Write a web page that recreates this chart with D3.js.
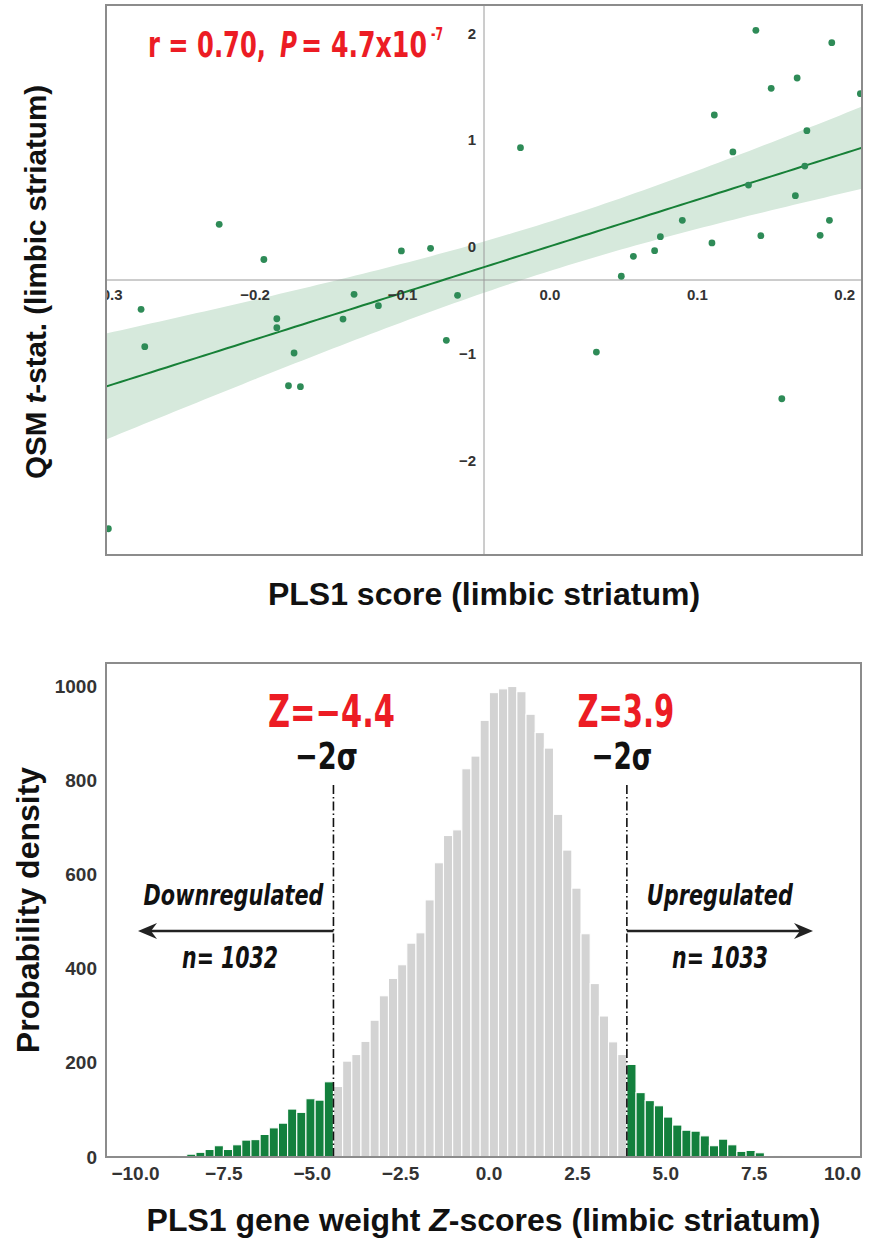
<!DOCTYPE html>
<html>
<head>
<meta charset="utf-8">
<script src="https://cdn.jsdelivr.net/npm/d3@7"></script>
<style>
  body { margin: 0; background: #fff; }
  svg { display: block; }
</style>
</head>
<body>
<svg id="fig" width="870" height="1241"></svg>
<script>
// ---------- Regional PLS1 score vs QSM t-statistic (limbic striatum) ----------
const plsScore = [
  -0.2244, -0.1941, -0.1008, -0.0810, -0.1329, -0.0627, -0.0200, 0.1397, 0.1912, 0.1677,
   0.1501,  0.2106,  0.1115,  0.1743,  0.1241,  0.1729,  0.1347, 0.1665, 0.0898, 0.1896,
   0.0749,  0.1099,  0.1431,  0.1833,  0.0710,  0.0566,  0.0484, -0.2774, -0.2749, -0.1853,
  -0.1853, -0.1736, -0.1774, -0.1693, -0.1404, -0.1164, -0.0703, -0.2996, 0.0315, 0.1573
];
const qsmT = [
   0.210, -0.120, -0.040, -0.015, -0.446, -0.456,  0.928,  2.028,  1.912,  1.581,
   1.484,  1.434,  1.234,  1.087,  0.888,  0.756,  0.578,  0.478,  0.247,  0.247,
   0.094,  0.035,  0.103,  0.107, -0.037, -0.090, -0.277, -0.587, -0.937, -0.675,
  -0.759, -0.996, -1.303, -1.312, -0.678, -0.553, -0.877, -2.643, -0.987, -1.425
];
const scatterXTicks = [-0.3, -0.2, -0.1, 0.0, 0.1, 0.2];
const scatterYTicks = [-2, -1, 0, 1, 2];

// ---------- Gene weight Z-score histogram ----------
const zLow = -4.4;     // -2 sigma threshold, downregulated side
const zHigh = 3.9;     // -2 sigma threshold, upregulated side
const binsBetween = 32;
const binsBelow = 18;
const histCounts = [
  // below zLow
  3, 0, 6, 10, 16, 24, 16, 26, 36, 37, 48, 62, 72, 102, 95, 124, 121, 160,
  // between thresholds
  150, 204, 218, 246, 291, 343, 380, 409, 455, 477, 547, 626, 684, 696, 826, 853,
  929, 988, 996, 1001, 990, 942, 903, 870, 729, 653, 572, 475, 369, 300, 245, 218,
  // above zHigh
  197, 137, 120, 109, 85, 68, 57, 55, 45, 24, 38, 26, 12, 14, 9, 0, 3
];
const histXTicks = [-10.0, -7.5, -5.0, -2.5, 0.0, 2.5, 5.0, 7.5, 10.0];
const histYTicks = [0, 200, 400, 600, 800, 1000];
const nDown = 1032, nUp = 1033;

// ---------- shared styling ----------
const SANS = "'Liberation Sans', Arial, Helvetica, sans-serif";
const NARROW = "'Liberation Sans Narrow', 'DejaVu Sans Condensed', 'Liberation Sans', sans-serif";
const RED = "#ec1c24";
const GREEN_PT = "#2e8b57";
const GREEN_LINE = "#178037";
const GREEN_BAND = "#d6e9dc";
const GREEN_BAR = "#13803d";
const GREY_BAR = "#d3d3d3";
const FRAME = "#8c8c8c";

const svg = d3.select("#fig");
const defs = svg.append("defs");

// condensed bold label, squeezed horizontally to a given width
function label(x, y, txt, size, color, width, italic, anchor) {
  const t = svg.append("text").attr("x", 0).attr("y", 0)
    .attr("text-anchor", anchor || "middle")
    .attr("font-family", NARROW).attr("font-weight", "bold").attr("font-size", size)
    .attr("fill", color).text(txt);
  if (italic) t.attr("font-style", "italic");
  let sx = 1;
  if (width) {
    const w = t.node().getComputedTextLength();
    if (w > 0) sx = width / w;
  }
  t.attr("transform", `translate(${x},${y}) scale(${sx},1)`);
  return t;
}

// =================== top panel: scatter with regression ===================
const sc = { left: 106, top: 5, right: 862, bottom: 555 };
const xS = d3.scaleLinear().domain([-0.3012, 0.2117]).range([sc.left, sc.right]);
const yS = d3.scaleLinear().domain([-2.889, 2.265]).range([sc.bottom, sc.top]);

defs.append("clipPath").attr("id", "scClip")
  .append("rect").attr("x", sc.left).attr("y", sc.top)
  .attr("width", sc.right - sc.left).attr("height", sc.bottom - sc.top);

const gS = svg.append("g").attr("clip-path", "url(#scClip)");

// ordinary least squares fit with a 95% confidence band
const n = plsScore.length;
const mx = d3.mean(plsScore), my = d3.mean(qsmT);
let sxx = 0, sxy = 0;
for (let i = 0; i < n; i++) {
  sxx += (plsScore[i] - mx) ** 2;
  sxy += (plsScore[i] - mx) * (qsmT[i] - my);
}
const slope = sxy / sxx, icpt = my - slope * mx;
let sse = 0;
for (let i = 0; i < n; i++) sse += (qsmT[i] - (icpt + slope * plsScore[i])) ** 2;
const sRes = Math.sqrt(sse / (n - 2));
const tCrit = 2.024;
const fitX = d3.range(0, 101).map(k => xS.domain()[0] + k * (xS.domain()[1] - xS.domain()[0]) / 100);
const fit = fitX.map(x => {
  const yh = icpt + slope * x;
  const se = sRes * Math.sqrt(1 / n + (x - mx) ** 2 / sxx);
  return { x, y: yh, lo: yh - tCrit * se, hi: yh + tCrit * se };
});

gS.append("path").datum(fit)
  .attr("d", d3.area().x(d => xS(d.x)).y0(d => yS(d.lo)).y1(d => yS(d.hi)))
  .attr("fill", GREEN_BAND);

// spines crossing at the centre of the axes box
const cx = (sc.left + sc.right) / 2, cy = (sc.top + sc.bottom) / 2;
gS.append("line").attr("x1", cx).attr("x2", cx).attr("y1", sc.top).attr("y2", sc.bottom)
  .attr("stroke", "#9a9a9a").attr("stroke-width", 1);
gS.append("line").attr("x1", sc.left).attr("x2", sc.right).attr("y1", cy).attr("y2", cy)
  .attr("stroke", "#9a9a9a").attr("stroke-width", 1);

gS.append("path").datum(fit)
  .attr("d", d3.line().x(d => xS(d.x)).y(d => yS(d.y)))
  .attr("fill", "none").attr("stroke", GREEN_LINE).attr("stroke-width", 2);

gS.selectAll("circle.pt").data(plsScore.map((x, i) => [x, qsmT[i]]))
  .join("circle").attr("class", "pt")
  .attr("cx", d => xS(d[0])).attr("cy", d => yS(d[1])).attr("r", 3.4)
  .attr("fill", GREEN_PT);

// tick labels sit next to the centred spines
const fmt1 = v => d3.format(".1f")(v).replace("-", "\u2212");
gS.selectAll("text.xt").data(scatterXTicks).join("text").attr("class", "xt")
  .attr("x", d => xS(d)).attr("y", cy + 14)
  .attr("dominant-baseline", "central").attr("text-anchor", "middle")
  .attr("font-family", SANS).attr("font-weight", "bold").attr("font-size", 15)
  .attr("fill", "#333").text(fmt1);
gS.selectAll("text.yt").data(scatterYTicks).join("text").attr("class", "yt")
  .attr("x", cx - 8).attr("y", d => yS(d))
  .attr("dominant-baseline", "central").attr("text-anchor", "end")
  .attr("font-family", SANS).attr("font-weight", "bold").attr("font-size", 15)
  .attr("fill", "#333").text(d => String(d).replace("-", "\u2212"));

svg.append("rect").attr("x", sc.left).attr("y", sc.top)
  .attr("width", sc.right - sc.left).attr("height", sc.bottom - sc.top)
  .attr("fill", "none").attr("stroke", FRAME).attr("stroke-width", 2);

// correlation annotation: r = 0.70, P = 4.7x10^-7
label(148, 57, "r = 0.70,", 36, RED, 118, false, "start");
label(280, 57, "P", 36, RED, 17, true, "start");
label(301, 57, "= 4.7x10", 36, RED, 126, false, "start");
label(431, 40, "-7", 18, RED, 12, false, "start");

// axis titles
const yTitle = svg.append("text")
  .attr("transform", `translate(46, ${cy + 2}) rotate(-90)`)
  .attr("text-anchor", "middle").attr("font-family", SANS)
  .attr("font-weight", "bold").attr("font-size", 30).attr("fill", "#111")
  .attr("textLength", 394).attr("lengthAdjust", "spacingAndGlyphs");
yTitle.append("tspan").text("QSM ");
yTitle.append("tspan").attr("font-style", "italic").text("t");
yTitle.append("tspan").text("-stat. (limbic striatum)");

svg.append("text").attr("x", cx).attr("y", 605).attr("text-anchor", "middle")
  .attr("font-family", SANS).attr("font-weight", "bold").attr("font-size", 32)
  .attr("fill", "#111").text("PLS1 score (limbic striatum)");

// =================== bottom panel: Z-score histogram ===================
const hp = { left: 106, top: 663, right: 861, bottom: 1157 };
const hx = d3.scaleLinear().domain([-10.834, 10.523]).range([hp.left, hp.right]);
const hy = d3.scaleLinear().domain([0, 1051]).range([hp.bottom, hp.top]);
const binWidth = (zHigh - zLow) / binsBetween;
const histStart = zLow - binsBelow * binWidth;

const bins = histCounts.map((c, i) => {
  const x0 = histStart + i * binWidth, x1 = x0 + binWidth;
  const tail = x1 <= zLow + 1e-9 || x0 >= zHigh - 1e-9;
  return { x0, x1, c, tail };
});

svg.append("g").selectAll("rect").data(bins.filter(b => b.c > 0)).join("rect")
  .attr("x", d => hx(d.x0)).attr("width", d => hx(d.x1) - hx(d.x0))
  .attr("y", d => hy(d.c)).attr("height", d => hy(0) - hy(d.c))
  .attr("fill", d => d.tail ? GREEN_BAR : GREY_BAR)
  .attr("stroke", "#fff").attr("stroke-width", 1.1);

// threshold lines (dash-dot)
const thrTop = 785;
[zLow, zHigh].forEach(z => {
  svg.append("line").attr("x1", hx(z)).attr("x2", hx(z))
    .attr("y1", thrTop).attr("y2", hp.bottom)
    .attr("stroke", "#111").attr("stroke-width", 1.6)
    .attr("stroke-dasharray", "9,3,1.5,3");
});

// frame and ticks
svg.append("rect").attr("x", hp.left).attr("y", hp.top)
  .attr("width", hp.right - hp.left).attr("height", hp.bottom - hp.top)
  .attr("fill", "none").attr("stroke", FRAME).attr("stroke-width", 2);

svg.selectAll("text.hxt").data(histXTicks).join("text").attr("class", "hxt")
  .attr("x", d => hx(d)).attr("y", hp.bottom + 16)
  .attr("dominant-baseline", "central").attr("text-anchor", "middle")
  .attr("font-family", SANS).attr("font-weight", "bold").attr("font-size", 19)
  .attr("fill", "#333").text(fmt1);
svg.selectAll("text.hyt").data(histYTicks).join("text").attr("class", "hyt")
  .attr("x", hp.left - 9).attr("y", d => hy(d))
  .attr("dominant-baseline", "central").attr("text-anchor", "end")
  .attr("font-family", SANS).attr("font-weight", "bold").attr("font-size", 19)
  .attr("fill", "#333").text(d => d);

// threshold annotations
label(hx(zLow) - 2, 727, `Z=\u2212${Math.abs(zLow).toFixed(1)}`, 44, RED, 127);
label(hx(zLow) - 7, 769, "\u22122\u03c3", 38, "#111", 63);
label(hx(zHigh) - 1, 727, `Z=${zHigh.toFixed(1)}`, 44, RED, 97);
label(hx(zHigh) - 5, 769, "\u22122\u03c3", 38, "#111", 61);

label(hx(zLow) - 10, 905, "Downregulated", 29, "#111", 180, true, "end");
label(hx(zHigh) + 20, 905, "Upregulated", 29, "#111", 146, true, "start");
label(230, 968, `n= ${nDown}`, 31, "#111", 96, true);
label(720, 968, `n= ${nUp}`, 31, "#111", 96, true);

// direction arrows
function arrow(xFrom, xTo, y) {
  const dir = Math.sign(xTo - xFrom);
  svg.append("line").attr("x1", xFrom).attr("x2", xTo - dir * 10).attr("y1", y).attr("y2", y)
    .attr("stroke", "#222").attr("stroke-width", 2.6);
  svg.append("path")
    .attr("d", `M${xTo},${y} L${xTo - dir * 19},${y - 8} L${xTo - dir * 13},${y} L${xTo - dir * 19},${y + 8} Z`)
    .attr("fill", "#222");
}
arrow(hx(zLow), 138, 931);
arrow(hx(zHigh), 813, 931);

// axis titles
svg.append("text")
  .attr("transform", `translate(39, ${(hp.top + hp.bottom) / 2}) rotate(-90)`)
  .attr("text-anchor", "middle").attr("font-family", SANS)
  .attr("font-weight", "bold").attr("font-size", 32).attr("fill", "#111")
  .text("Probability density");

const hxTitle = svg.append("text").attr("x", (hp.left + hp.right) / 2).attr("y", 1231)
  .attr("text-anchor", "middle").attr("font-family", SANS)
  .attr("font-weight", "bold").attr("font-size", 32).attr("fill", "#111");
hxTitle.append("tspan").text("PLS1 gene weight ");
hxTitle.append("tspan").attr("font-style", "italic").text("Z");
hxTitle.append("tspan").text("-scores (limbic striatum)");
</script>
</body>
</html>
